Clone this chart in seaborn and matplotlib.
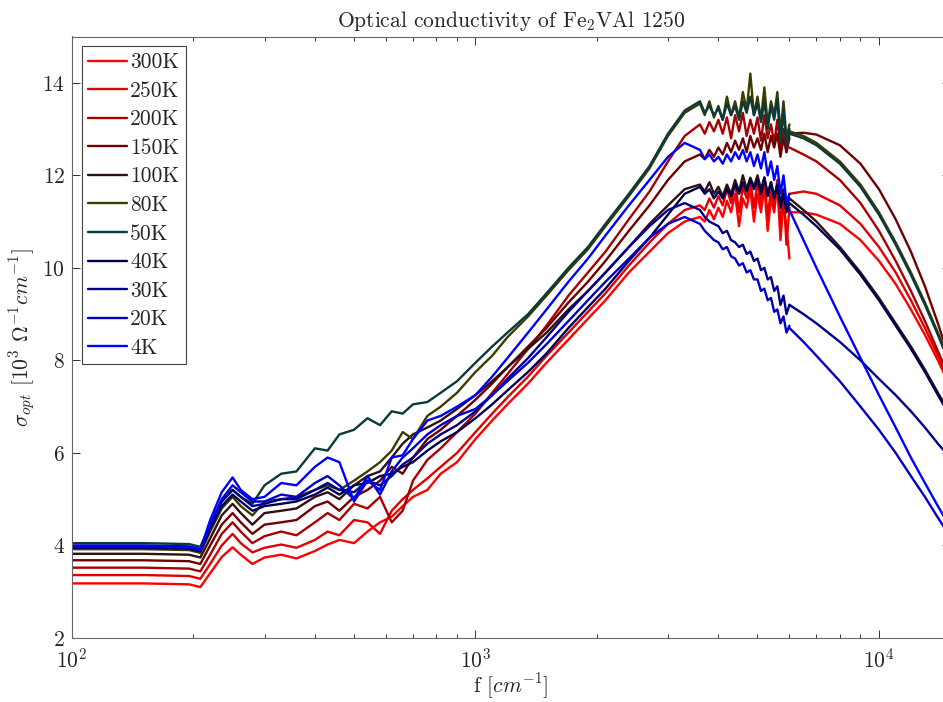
import matplotlib
matplotlib.use("Agg")
import matplotlib.pyplot as plt
import seaborn as sns
import numpy as np
import pandas as pd

# ---------------- data ----------------
temps = ["300K", "250K", "200K", "150K", "100K", "80K", "50K", "40K", "30K", "20K", "4K"]

data_freq = [100, 150, 195, 208, 220, 235, 250, 262, 280, 300,
             330, 360, 400, 430, 460, 500, 540, 580, 620, 660,
             700, 760, 820, 900, 1000, 1100, 1200, 1350, 1500, 1700,
             1900, 2100, 2400, 2700, 3000, 3300, 3600, 3700, 3800, 3900,
             4000, 4100, 4200, 4300, 4400, 4500, 4600, 4700, 4800, 4900,
             5000, 5100, 5200, 5300, 5400, 5500, 5600, 5700, 5800, 5900, 6000]

fit_freq = [6000, 6500, 7000, 8000, 9000, 10000, 11000, 12000, 13000, 14000, 15000]

sigma_300K = [3.18, 3.18, 3.16, 3.10, 3.40, 3.75, 3.96, 3.80, 3.60, 3.74,
              3.80, 3.72, 3.88, 4.02, 4.12, 4.05, 4.30, 4.50, 4.62, 4.85,
              5.05, 5.20, 5.55, 5.80, 6.30, 6.70, 7.05, 7.50, 7.95, 8.45,
              8.90, 9.30, 9.90, 10.35, 10.75, 11.00, 11.10, 11.00, 11.25, 11.05,
              11.30, 11.10, 11.45, 11.20, 11.60, 10.90, 11.50, 11.30, 11.70, 11.00,
              11.60, 11.20, 11.75, 10.80, 11.50, 11.20, 11.80, 10.60, 11.40, 10.90, 10.20]
sigma_250K = [3.36, 3.36, 3.34, 3.28, 3.60, 4.00, 4.25, 4.05, 3.85, 3.95,
              4.02, 3.95, 4.12, 4.30, 4.22, 4.55, 4.50, 4.25, 4.75, 5.00,
              5.20, 5.45, 5.70, 6.00, 6.45, 6.85, 7.20, 7.65, 8.10, 8.60,
              9.05, 9.45, 10.05, 10.55, 10.95, 11.25, 11.35, 11.25, 11.50, 11.30,
              11.55, 11.35, 11.70, 11.40, 11.85, 11.20, 11.75, 11.50, 11.90, 11.30,
              11.85, 11.40, 11.95, 11.10, 11.70, 11.35, 11.90, 10.90, 11.60, 10.50, 11.30]
sigma_200K = [3.52, 3.52, 3.50, 3.44, 3.80, 4.25, 4.50, 4.30, 4.05, 4.20,
              4.30, 4.22, 4.50, 4.70, 4.55, 4.90, 4.80, 5.05, 4.50, 4.75,
              5.40, 5.85, 6.10, 6.45, 6.85, 7.30, 7.70, 8.25, 8.75, 9.40,
              9.90, 10.35, 11.05, 11.65, 12.30, 12.85, 13.10, 12.90, 13.15, 12.95,
              13.20, 12.90, 13.25, 12.80, 13.30, 12.95, 13.35, 12.85, 13.20, 12.90,
              13.25, 12.75, 13.30, 12.80, 13.10, 12.70, 13.20, 12.60, 13.00, 12.50, 12.80]
sigma_150K = [3.68, 3.68, 3.66, 3.60, 4.00, 4.45, 4.70, 4.50, 4.25, 4.45,
              4.50, 4.55, 4.85, 4.95, 4.75, 5.05, 5.20, 5.40, 5.70, 5.55,
              5.90, 6.30, 6.50, 6.80, 7.15, 7.50, 7.85, 8.30, 8.70, 9.25,
              9.70, 10.15, 10.80, 11.35, 11.90, 12.30, 12.45, 12.35, 12.55, 12.40,
              12.60, 12.45, 12.70, 12.50, 12.75, 12.55, 12.80, 12.50, 12.85, 12.60,
              12.80, 12.55, 12.90, 12.50, 12.85, 12.60, 12.90, 12.40, 12.80, 12.50, 12.90]
sigma_100K = [3.82, 3.82, 3.80, 3.74, 4.15, 4.65, 4.90, 4.70, 4.45, 4.70,
              4.75, 4.80, 5.05, 5.15, 5.00, 5.30, 5.50, 5.60, 5.90, 6.20,
              6.40, 6.55, 6.70, 6.95, 7.25, 7.55, 7.85, 8.25, 8.60, 9.10,
              9.50, 9.90, 10.45, 10.95, 11.35, 11.70, 11.80, 11.65, 11.85, 11.60,
              11.75, 11.55, 11.80, 11.60, 11.90, 11.65, 12.00, 11.70, 11.95, 11.75,
              12.00, 11.70, 11.95, 11.60, 11.85, 11.55, 11.80, 11.40, 11.70, 11.30, 11.50]
sigma_80K = [3.92, 3.92, 3.90, 3.84, 4.30, 4.80, 5.05, 4.85, 4.65, 4.95,
             5.00, 5.05, 5.20, 5.30, 5.20, 5.40, 5.60, 5.80, 6.05, 6.45,
             6.30, 6.80, 7.00, 7.30, 7.75, 8.10, 8.50, 8.95, 9.40, 9.95,
             10.40, 10.90, 11.55, 12.15, 12.85, 13.35, 13.55, 13.30, 13.60, 13.25,
             13.50, 13.20, 13.70, 13.30, 13.60, 13.25, 13.80, 13.40, 14.20, 13.30,
             13.70, 13.20, 13.90, 13.10, 13.60, 13.30, 13.80, 12.90, 13.60, 12.80, 13.10]
sigma_50K = [4.05, 4.05, 4.03, 3.97, 4.45, 4.95, 5.20, 5.05, 4.90, 5.30,
             5.55, 5.60, 6.10, 6.05, 6.40, 6.50, 6.75, 6.60, 6.90, 6.85,
             7.05, 7.10, 7.30, 7.55, 7.95, 8.30, 8.60, 9.00, 9.45, 10.00,
             10.45, 10.95, 11.60, 12.20, 12.90, 13.40, 13.60, 13.35, 13.50, 13.30,
             13.45, 13.20, 13.55, 13.30, 13.50, 13.20, 13.60, 13.35, 13.70, 13.30,
             13.55, 13.15, 13.60, 13.00, 13.50, 13.20, 13.65, 12.70, 13.40, 12.60, 13.00]
sigma_40K = [3.95, 3.95, 3.93, 3.87, 4.35, 4.85, 5.10, 4.95, 4.75, 4.85,
             4.90, 4.95, 5.10, 5.25, 5.10, 5.30, 5.35, 5.50, 5.55, 5.70,
             5.80, 6.05, 6.25, 6.45, 6.75, 7.05, 7.35, 7.75, 8.15, 8.70,
             9.15, 9.55, 10.15, 10.65, 11.15, 11.60, 11.75, 11.60, 11.70, 11.50,
             11.65, 11.50, 11.70, 11.55, 11.80, 11.60, 11.85, 11.65, 11.90, 11.70,
             11.90, 11.60, 11.95, 11.55, 11.85, 11.50, 11.80, 11.30, 11.60, 11.20, 11.40]
sigma_30K = [3.97, 3.97, 3.95, 3.89, 4.40, 4.95, 5.20, 5.05, 4.85, 4.90,
             5.00, 5.00, 5.20, 5.35, 5.20, 5.15, 5.40, 5.30, 5.50, 5.75,
             5.90, 6.20, 6.40, 6.60, 6.90, 7.25, 7.60, 8.05, 8.50, 9.05,
             9.50, 9.90, 10.45, 10.90, 11.25, 11.40, 11.25, 11.10, 11.00, 10.95,
             10.90, 10.75, 10.80, 10.60, 10.55, 10.45, 10.50, 10.30, 10.35, 10.15,
             10.20, 9.95, 10.00, 9.75, 9.80, 9.50, 9.60, 9.20, 9.40, 9.00, 9.20]
sigma_20K = [4.00, 4.00, 3.98, 3.92, 4.45, 5.00, 5.30, 5.15, 4.95, 4.95,
             5.10, 5.05, 5.35, 5.50, 5.30, 5.00, 5.50, 5.10, 5.60, 5.90,
             6.10, 6.40, 6.60, 6.80, 6.95, 7.25, 7.55, 7.95, 8.35, 8.85,
             9.30, 9.70, 10.20, 10.65, 10.95, 11.10, 10.95, 10.80, 10.70, 10.60,
             10.55, 10.40, 10.45, 10.25, 10.20, 10.05, 10.10, 9.90, 9.95, 9.75,
             9.75, 9.50, 9.55, 9.30, 9.35, 9.05, 9.10, 8.80, 8.95, 8.60, 8.75]
sigma_4K = [3.98, 3.98, 3.96, 3.90, 4.55, 5.15, 5.47, 5.20, 5.00, 5.05,
            5.35, 5.30, 5.70, 5.90, 5.80, 4.95, 5.40, 5.20, 5.90, 5.95,
            6.30, 6.70, 6.80, 7.00, 7.25, 7.65, 8.05, 8.60, 9.10, 9.70,
            10.20, 10.70, 11.35, 11.90, 12.40, 12.70, 12.55, 12.35, 12.45, 12.30,
            12.40, 12.25, 12.45, 12.30, 12.50, 12.35, 12.55, 12.30, 12.50, 12.20,
            12.45, 12.15, 12.50, 12.00, 12.30, 11.90, 12.20, 11.60, 12.00, 11.40, 11.60]

fit_300K = [11.20, 11.20, 11.15, 10.95, 10.60, 10.15, 9.65, 9.10, 8.55, 8.00, 7.45]
fit_250K = [11.60, 11.65, 11.60, 11.35, 10.95, 10.45, 9.90, 9.30, 8.70, 8.10, 7.50]
fit_200K = [12.60, 12.45, 12.30, 11.90, 11.40, 10.80, 10.15, 9.50, 8.85, 8.20, 7.60]
fit_150K = [12.90, 12.92, 12.88, 12.65, 12.25, 11.70, 11.05, 10.35, 9.60, 8.80, 8.00]
fit_100K = [11.50, 11.25, 11.00, 10.45, 9.90, 9.35, 8.80, 8.30, 7.80, 7.30, 6.85]
fit_80K = [12.95, 12.85, 12.70, 12.30, 11.80, 11.20, 10.55, 9.90, 9.25, 8.60, 7.95]
fit_50K = [12.90, 12.80, 12.65, 12.25, 11.75, 11.15, 10.50, 9.85, 9.20, 8.55, 7.90]
fit_40K = [11.40, 11.15, 10.90, 10.40, 9.85, 9.30, 8.75, 8.25, 7.75, 7.25, 6.80]
fit_30K = [9.20, 9.00, 8.80, 8.40, 8.00, 7.60, 7.25, 6.90, 6.55, 6.20, 5.90]
fit_20K = [8.70, 8.40, 8.10, 7.55, 7.00, 6.50, 6.00, 5.50, 5.05, 4.60, 4.20]
fit_4K = [11.25, 10.60, 10.00, 8.95, 8.05, 7.25, 6.55, 5.90, 5.35, 4.85, 4.40]

colors = ["#FF0000", "#E00000", "#A80000", "#700000", "#301010", "#3C3C00",
          "#0A3A3A", "#000050", "#00008C", "#0000C8", "#0000FF"]

data_series = [sigma_300K, sigma_250K, sigma_200K, sigma_150K, sigma_100K, sigma_80K,
               sigma_50K, sigma_40K, sigma_30K, sigma_20K, sigma_4K]
fit_series = [fit_300K, fit_250K, fit_200K, fit_150K, fit_100K, fit_80K,
              fit_50K, fit_40K, fit_30K, fit_20K, fit_4K]

# ---------------- style ----------------
sns.set_style("ticks")
plt.rcParams["font.family"] = ["cmr10", "DejaVu Serif"]
plt.rcParams["mathtext.fontset"] = "cm"
plt.rcParams["axes.formatter.use_mathtext"] = True
plt.rcParams["axes.unicode_minus"] = False

fig = plt.figure(figsize=(9.43, 7.02), dpi=100)
ax = fig.add_axes([72 / 943, 1 - 638 / 702, 878 / 943, (638 - 36.5) / 702])

for t, c, ys, fs in zip(temps, colors, data_series, fit_series):
    sns.lineplot(x=data_freq, y=ys, color=c, linewidth=1.7, ax=ax,
                 label=t, estimator=None, sort=False)
    sns.lineplot(x=fit_freq, y=fs, color=c, linewidth=1.7, ax=ax,
                 estimator=None, sort=False)

ax.set_xscale("log")
ax.set_xlim(100, 15000)
ax.set_ylim(2, 15)
ax.set_yticks([2, 4, 6, 8, 10, 12, 14])
ax.tick_params(axis="both", which="both", direction="in", top=True, right=True,
               labelsize=15.5, color="#333333", width=0.7)
ax.tick_params(axis="both", which="major", length=6)
ax.tick_params(axis="x", which="minor", length=3)
ax.tick_params(axis="x", which="major", pad=7)
ax.tick_params(axis="y", which="major", pad=5)
for s in ax.spines.values():
    s.set_color("#666666")
    s.set_linewidth(0.8)

ax.set_title("Optical conductivity of Fe$_2$VAl 1250", fontsize=15.5, pad=7)
ax.set_xlabel(r"f [$cm^{-1}$]", fontsize=15.5, labelpad=0)
ax.set_ylabel(r"$\sigma_{opt}$ [$10^3$ $\Omega^{-1} cm^{-1}$]", fontsize=15.5, labelpad=3)

leg = ax.legend(loc="upper left", fontsize=15.5, frameon=True, fancybox=False,
                edgecolor="#444444", framealpha=1, handlelength=1.8,
                handletextpad=0.15, labelspacing=0.42, borderpad=0.3,
                borderaxespad=0.45)
leg.get_frame().set_linewidth(0.8)

fig.savefig("out.png", dpi=100)
